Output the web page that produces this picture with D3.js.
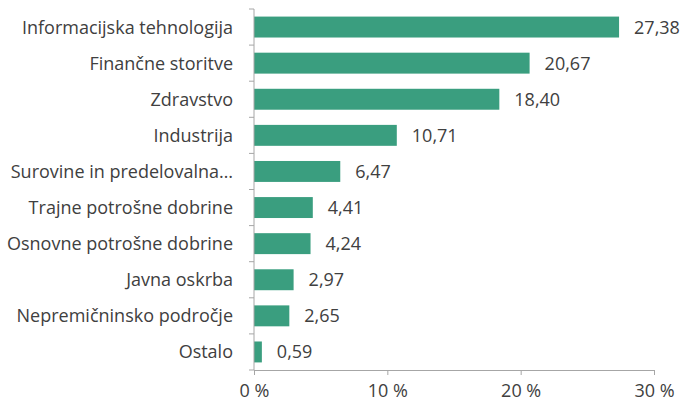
<!DOCTYPE html>
<html><head><meta charset="utf-8">
<script src="https://cdn.jsdelivr.net/npm/d3@7"></script>
<style>body{margin:0;background:#fff}svg text{font-family:"Open Sans",sans-serif}</style>
</head><body><svg id="c" width="682" height="403"></svg>
<script>
const categories = ["Informacijska tehnologija","Finančne storitve","Zdravstvo","Industrija","Surovine in predelovalna…","Trajne potrošne dobrine","Osnovne potrošne dobrine","Javna oskrba","Nepremičninsko področje","Ostalo"];
const values = [27.38,20.67,18.40,10.71,6.47,4.41,4.24,2.97,2.65,0.59];
const xTicks = [0,10,20,30];

const svg = d3.select("#c");
const m = {l:254, r:28, t:9, b:33};
const W = 682, H = 403;
const FS = 18;
const x = d3.scaleLinear().domain([0,30]).range([m.l, W-m.r]);
const y = d3.scaleBand().domain(categories).range([m.t, H-m.b]).paddingInner(0.42).paddingOuter(0.21);
const axisColor = "#a6a6a6";
const textColor = "#404040";

svg.selectAll("rect.bar").data(values).join("rect")
  .attr("class","bar")
  .attr("x", x(0)).attr("y",(d,i)=>y(categories[i]))
  .attr("width", d=>x(d)-x(0)).attr("height", y.bandwidth())
  .attr("fill","#3a9e7f");

svg.selectAll("text.val").data(values).join("text")
  .attr("class","val")
  .attr("x", d=>x(d)+15).attr("y",(d,i)=>y(categories[i])+y.bandwidth()/2)
  .attr("dy","0.36em").attr("font-size",FS).attr("fill",textColor)
  .text(d=>d.toFixed(2).replace(".",","));

const yTop = m.t, yBot = H-m.b;
svg.append("line").attr("x1",x(0)).attr("x2",x(0)).attr("y1",yTop).attr("y2",yBot).attr("stroke",axisColor);
const bounds = d3.range(categories.length+1).map(i=>yTop + i*(yBot-yTop)/categories.length);
svg.selectAll("line.yt").data(bounds).join("line").attr("class","yt")
  .attr("x1",x(0)-5).attr("x2",x(0)).attr("y1",d=>d).attr("y2",d=>d).attr("stroke",axisColor);
svg.selectAll("text.cat").data(categories).join("text").attr("class","cat")
  .attr("x",x(0)-21).attr("y",d=>y(d)+y.bandwidth()/2).attr("dy","0.36em")
  .attr("text-anchor","end").attr("font-size",FS).attr("fill",textColor).text(d=>d);

const xa = svg.append("g").attr("transform",`translate(0,${yBot})`)
  .call(d3.axisBottom(x).tickValues(xTicks).tickSize(5).tickSizeOuter(0).tickPadding(9).tickFormat(d=>d+" %"));
xa.select(".domain").attr("stroke",axisColor);
xa.selectAll(".tick line").attr("stroke",axisColor);
xa.selectAll(".tick text").attr("font-size",FS).attr("fill",textColor).attr("font-family","'Open Sans',sans-serif");
</script></body></html>
